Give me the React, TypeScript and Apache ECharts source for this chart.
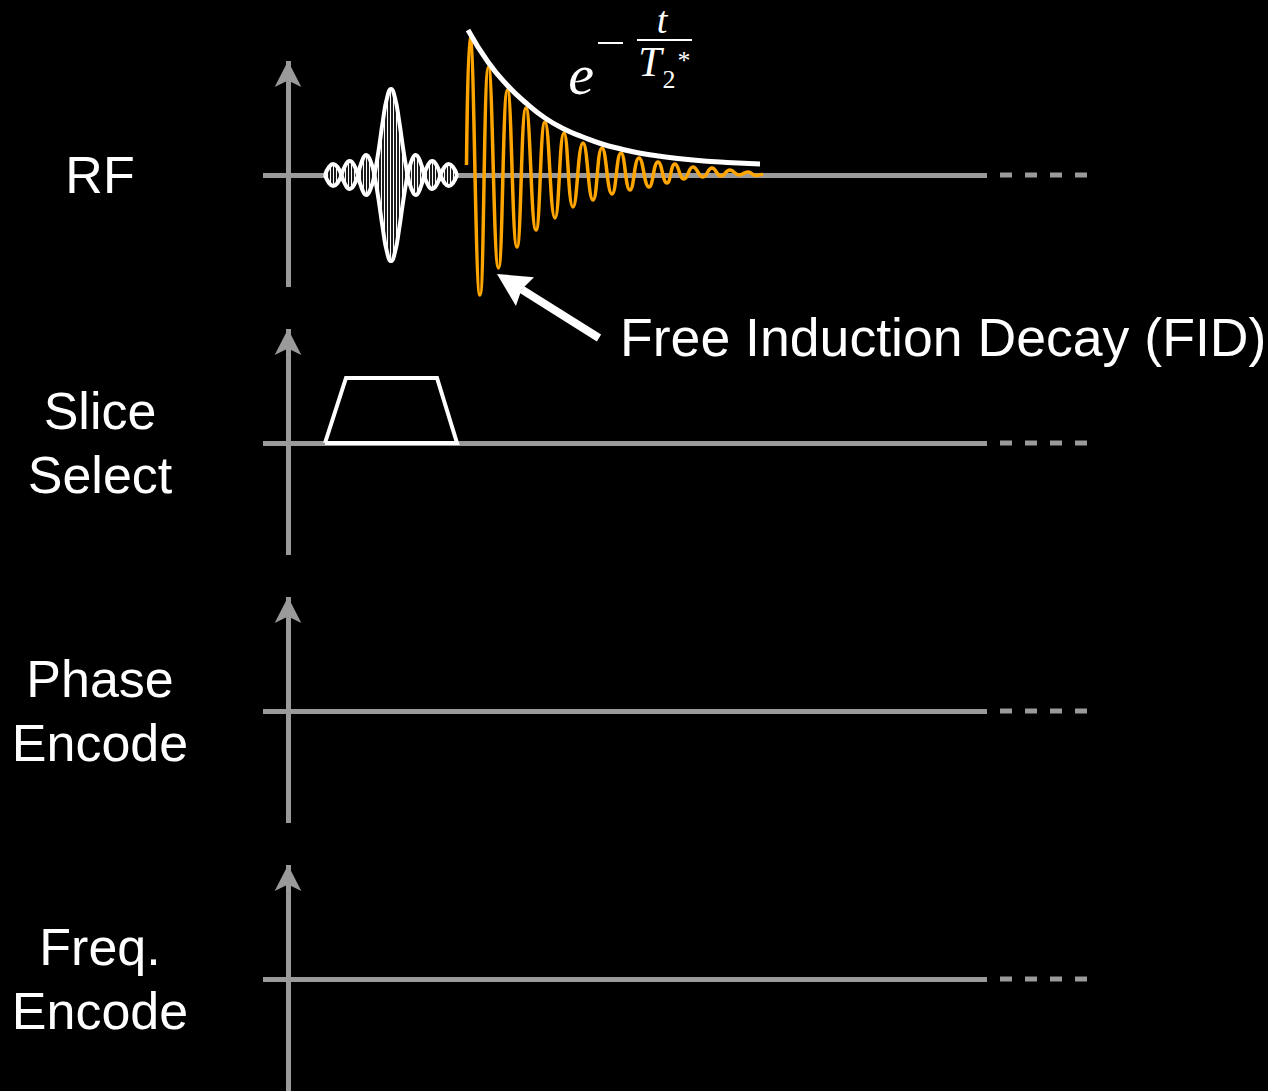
import React, { useEffect, useRef } from "react";
import * as echarts from "echarts";

const WIDTH = 1268;
const HEIGHT = 1091;

// ---- channels ----
const CHANNEL_LABELS = ["RF", "Slice\nSelect", "Phase\nEncode", "Freq.\nEncode"];

// ---- axis ranges (time units, amplitude units) ----
const X_MIN = -2.5;
const X_MAX = 69.9;
const DASH_START = 71.2;
const DASH_END = 79.9;
const Y_MIN = -112;
const Y_MAX = 114;

// ---- RF excitation pulse (sinc envelope) ----
const SINC_T = [
  3.7, 4.1, 4.52, 4.95, 5.35,
  5.75, 6.17, 6.6, 7.0,
  7.4, 7.82, 8.25, 8.65,
  9.05, 9.5, 9.9, 10.3, 10.7, 11.1, 11.55, 11.95,
  12.35, 12.77, 13.2, 13.6,
  14.0, 14.42, 14.85, 15.25,
  15.65, 16.07, 16.5, 16.9,
];
const SINC_ENV = [
  0, 8, 11, 8, 0,
  10, 14, 10, 0,
  14, 20, 14, 0,
  24, 55, 77, 86, 77, 55, 24, 0,
  14, 20, 14, 0,
  10, 14, 10, 0,
  8, 11, 8, 0,
];

// ---- FID (extremes) ----
const FID_T = [
  17.85, 18.2, 19.2, 20.05, 21.05, 21.95, 22.9, 23.8, 24.8, 25.7, 26.7, 27.6,
  28.5, 29.5, 30.5, 31.4, 32.4, 33.3, 34.2, 35.1, 36.1, 37.0, 37.9, 38.7,
  39.6, 40.5, 41.5, 42.4, 43.3, 44.2, 45.1, 46.0, 46.8, 47.5,
];
const FID_A = [
  10, 138, -120, 108, -93, 85, -72, 67, -55, 53, -43, 42,
  -32, 32, -25, 27, -19, 22, -15, 17, -12, 13, -8, 11,
  -4, 8, -2, 7, -1, 5, 0, 3, -0.5, 1,
];

// ---- T2* decay envelope ----
const DECAY_T = [18.0, 20.0, 21.9, 23.8, 25.7, 27.6, 29.5, 31.4, 33.3, 35.1, 37.0, 40.5, 43.9, 47.2];
const DECAY_A = [145, 113, 90, 72, 57, 46, 38, 31, 26, 22, 19, 15, 12.5, 11];

// ---- slice-select gradient (trapezoid) ----
const SLICE_T = [3.7, 5.8, 14.9, 16.9, 3.7];
const SLICE_A = [0, 65, 65, 0, 0];

// ---- annotations ----
const FID_ARROW_TIP = [20.9, -99];
const FID_ARROW_TAIL = [31.1, -163];
const FID_LABEL = "Free Induction Decay (FID)";
const EQ_ANCHOR = [29.3, 100];

// ---- style/layout ----
const GRAY = "#9a9a9a";
const ORANGE = "#ffa500";
const WHITE = "#ffffff";
const BASELINES_PX = [175, 443, 711, 979];
const GRID_LEFT = 263;
const GRID_RIGHT = WIDTH - 987;
const LABEL_X = 100;
const SANS = "'Liberation Sans', Arial, Helvetica, sans-serif";
const SERIF = "'Liberation Serif', 'DejaVu Serif', 'Times New Roman', serif";

const stripeSvg =
  "<svg xmlns='http://www.w3.org/2000/svg' width='3' height='4'>" +
  "<rect x='0' y='0' width='3' height='4' fill='#1c1c1c'/>" +
  "<rect x='0' y='0' width='1' height='4' fill='#ffffff'/></svg>";
const STRIPES: any = {
  image: "data:image/svg+xml;charset=utf-8," + encodeURIComponent(stripeSvg),
  repeat: "repeat",
  imageWidth: 3,
  imageHeight: 4,
};

function zip(a: number[], b: number[]) {
  return a.map((v, i) => [v, b[i]]);
}

function sincLobes(): number[][][] {
  const lobes: number[][][] = [];
  let cur: number[][] = [];
  SINC_T.forEach((t, k) => {
    cur.push([t, SINC_ENV[k]]);
    if (SINC_ENV[k] === 0 && cur.length > 1) {
      lobes.push(cur);
      cur = [[t, 0]];
    }
  });
  return lobes;
}

function buildOption(): any {
  const grid = BASELINES_PX.map((b) => ({
    left: GRID_LEFT,
    right: GRID_RIGHT,
    top: b - 114,
    height: 226,
  }));
  const xAxis = BASELINES_PX.map((_, i) => ({
    type: "value",
    gridIndex: i,
    min: X_MIN,
    max: X_MAX,
    axisLine: { show: true, onZero: true, lineStyle: { color: GRAY, width: 5, cap: "butt" } },
    axisTick: { show: false },
    axisLabel: { show: false },
    splitLine: { show: false },
  }));
  const yAxis = BASELINES_PX.map((_, i) => ({
    type: "value",
    gridIndex: i,
    min: Y_MIN,
    max: Y_MAX,
    axisLine: {
      show: true,
      onZero: true,
      symbol: ["none", "arrow"],
      symbolSize: [20, 26],
      lineStyle: { color: GRAY, width: 5, cap: "butt" },
    },
    axisTick: { show: false },
    axisLabel: { show: false },
    splitLine: { show: false },
  }));

  const series: any[] = [];
  const base = { type: "line", symbol: "none", showSymbol: false, clip: false, silent: true, animation: false };

  // RF sinc pulse
  sincLobes().forEach((lobe) => {
    [1, -1].forEach((s) => {
      series.push({
        ...base,
        xAxisIndex: 0,
        yAxisIndex: 0,
        smooth: 0.5,
        data: lobe.map(([t, a]) => [t, s * a]),
        lineStyle: { color: WHITE, width: 4 },
        areaStyle: { color: STRIPES, opacity: 1, origin: 0 },
        z: 3,
      });
    });
  });

  // FID
  series.push({
    ...base,
    xAxisIndex: 0,
    yAxisIndex: 0,
    smooth: 0.5,
    data: zip(FID_T, FID_A),
    lineStyle: { color: ORANGE, width: 3.5 },
    z: 4,
  });

  // decay envelope
  series.push({
    ...base,
    xAxisIndex: 0,
    yAxisIndex: 0,
    smooth: 0.5,
    data: zip(DECAY_T, DECAY_A),
    lineStyle: { color: WHITE, width: 5, cap: "butt" },
    z: 5,
  });

  // slice select trapezoid
  series.push({
    ...base,
    xAxisIndex: 1,
    yAxisIndex: 1,
    data: zip(SLICE_T, SLICE_A),
    lineStyle: { color: WHITE, width: 4, join: "miter" },
    z: 3,
  });

  return {
    animation: false,
    backgroundColor: "#000000",
    grid,
    xAxis,
    yAxis,
    series,
  };
}

function buildGraphic(chart: any): any[] {
  const toPx = (gi: number, p: number[]) => chart.convertToPixel({ gridIndex: gi }, p) as number[];
  const els: any[] = [];

  CHANNEL_LABELS.forEach((lab, i) => {
    const p0 = toPx(i, [0, 0]);
    // dashed continuation of the time axis
    const d0 = toPx(i, [DASH_START, 0]);
    const d1 = toPx(i, [DASH_END, 0]);
    els.push({
      type: "line",
      silent: true,
      shape: { x1: d0[0], y1: d0[1], x2: d1[0], y2: d1[1] },
      style: { stroke: GRAY, lineWidth: 5, lineDash: [12, 13], lineCap: "butt" },
    });
    // channel label
    els.push({
      type: "text",
      x: LABEL_X,
      y: p0[1] - 0.5,
      silent: true,
      style: {
        text: lab,
        fill: WHITE,
        fontSize: 52,
        fontFamily: SANS,
        lineHeight: 64,
        align: "center",
        verticalAlign: "middle",
        textAlign: "center",
        textVerticalAlign: "middle",
      },
    });
  });

  // FID arrow
  const tip = toPx(0, FID_ARROW_TIP);
  const tail = toPx(0, FID_ARROW_TAIL);
  const dx = tip[0] - tail[0];
  const dy = tip[1] - tail[1];
  const L = Math.hypot(dx, dy);
  const ux = dx / L, uy = dy / L;
  const nx = -uy, ny = ux;
  const HEAD_LEN = 33, HEAD_HALF = 17, NOTCH = 29;
  const back = [tip[0] - ux * HEAD_LEN, tip[1] - uy * HEAD_LEN];
  const notch = [tip[0] - ux * NOTCH, tip[1] - uy * NOTCH];
  els.push({
    type: "line",
    silent: true,
    shape: { x1: tail[0], y1: tail[1], x2: notch[0], y2: notch[1] },
    style: { stroke: WHITE, lineWidth: 8, lineCap: "butt" },
  });
  els.push({
    type: "polygon",
    silent: true,
    shape: {
      points: [
        tip,
        [back[0] + nx * HEAD_HALF, back[1] + ny * HEAD_HALF],
        notch,
        [back[0] - nx * HEAD_HALF, back[1] - ny * HEAD_HALF],
      ],
    },
    style: { fill: WHITE },
  });
  els.push({
    type: "text",
    x: tail[0] + 21,
    y: tail[1] - 1,
    silent: true,
    style: {
      text: FID_LABEL,
      fill: WHITE,
      fontSize: 53.6,
      fontFamily: SANS,
      align: "left",
      verticalAlign: "middle",
      textAlign: "left",
      textVerticalAlign: "middle",
    },
  });

  // equation e^{-t/T2*}
  const a = toPx(0, EQ_ANCHOR);
  const txt = (s: string, ox: number, oy: number, size: number, italic: boolean) => ({
    type: "text",
    x: a[0] + ox,
    y: a[1] + oy,
    silent: true,
    style: {
      text: s,
      fill: WHITE,
      fontSize: size,
      fontFamily: SERIF,
      fontStyle: italic ? "italic" : "normal",
      align: "center",
      verticalAlign: "middle",
      textAlign: "center",
      textVerticalAlign: "middle",
    },
  });
  els.push(txt("e", 0, -1, 58, true));
  els.push({
    type: "line",
    silent: true,
    shape: { x1: a[0] + 17, y1: a[1] - 32, x2: a[0] + 42, y2: a[1] - 32 },
    style: { stroke: WHITE, lineWidth: 2 },
  });
  els.push({
    type: "line",
    silent: true,
    shape: { x1: a[0] + 56, y1: a[1] - 35, x2: a[0] + 111, y2: a[1] - 35 },
    style: { stroke: WHITE, lineWidth: 2 },
  });
  els.push(txt("t", 81, -55, 38, true));
  els.push(txt("T", 69, -13, 42, true));
  els.push(txt("2", 88, 4, 26, false));
  els.push(txt("*", 103, -15, 26, false));

  return els;
}

export default function App() {
  const ref = useRef<HTMLDivElement>(null);
  useEffect(() => {
    document.body.style.margin = "0";
    document.body.style.background = "#000";
    const chart = echarts.init(ref.current!, null, { renderer: "svg", width: WIDTH, height: HEIGHT });
    chart.setOption(buildOption());
    chart.setOption({ graphic: { elements: buildGraphic(chart) } });
    return () => chart.dispose();
  }, []);
  return (
    <div
      ref={ref}
      style={{ width: WIDTH, height: HEIGHT, position: "absolute", left: 0, top: 0, background: "#000" }}
    />
  );
}
